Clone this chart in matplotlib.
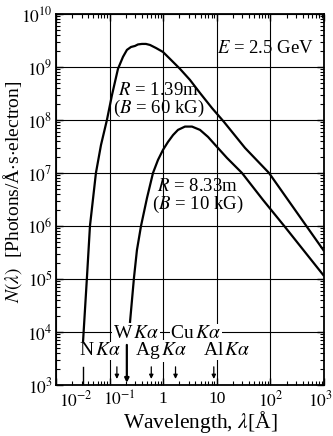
import matplotlib
matplotlib.use('Agg')
import matplotlib.pyplot as plt
import matplotlib.transforms as mtransforms
from matplotlib.ticker import FixedLocator, LogLocator, NullFormatter

plt.rcParams['font.family'] = ['Liberation Serif', 'DejaVu Serif']
plt.rcParams['mathtext.fontset'] = 'stix'

# ---- data ----
# R = 1.39 m (B = 60 kG)
wl_r139 = [0.0319, 0.0378, 0.0431, 0.0557, 0.0692, 0.0893, 0.111, 0.1435,
           0.178, 0.211, 0.251, 0.298, 0.339, 0.402, 0.477, 0.568, 0.734,
           0.991, 1.34, 2.06, 3.16, 4.86, 8.13, 13.6, 33.6, 94.2, 213.0,
           482.0, 1000.0]
n_r139 = [6.2e3, 1.04e5, 1.0e6, 1.0e7, 3.37e7, 1.0e8, 2.96e8, 9.2e8,
          1.55e9, 2.1e9, 2.38e9, 2.49e9, 2.66e9, 2.72e9, 2.72e9, 2.6e9, 2.28e9,
          1.92e9, 1.42e9, 9.2e8, 5.7e8, 3.23e8, 1.68e8, 9.2e7, 2.97e7, 1.0e7,
          3.1e6, 9.6e5, 3.37e5]

# R = 8.33 m (B = 10 kG)
wl_r833 = [0.240, 0.285, 0.324, 0.386, 0.499, 0.646, 0.80, 0.991, 1.23,
           1.53, 1.89, 2.55, 3.45, 4.86, 6.85, 10.1, 15.5, 29.5, 72.8, 187.0,
           1000.0]
n_r833 = [1.48e4, 1.04e5, 3.5e5, 1.0e6, 3.37e6, 1.0e7, 1.76e7, 2.72e7,
          3.85e7, 5.2e7, 6.5e7, 7.5e7, 7.5e7, 6.5e7, 4.8e7, 3.1e7, 1.92e7,
          1.0e7, 3.1e6, 9.6e5, 1.14e5]

# characteristic line markers at the bottom
marker_wl = [0.032, 0.137, 0.21, 0.6, 1.7, 8.8]
marker_top = [2.2e3, 2.2e3, 5.7e3, 2.2e3, 2.2e3, 2.2e3]
marker_tip = [1.0e3, 1.3e3, 1.1e3, 1.3e3, 1.3e3, 1.3e3]
marker_head = [False, True, True, True, True, True]

line_labels = [r'W$\,K\alpha$', r'Cu$\,K\alpha$', r'N$\,K\alpha$',
               r'Ag$\,K\alpha$', r'Al$\,K\alpha$']

xtick_vals = [1e-2, 1e-1, 1, 10, 100, 1000]
xtick_labels = [r'$10^{-2}$', r'$10^{-1}$', '1', '10', r'$10^{2}$', r'$10^{3}$']
ytick_vals = [1e3, 1e4, 1e5, 1e6, 1e7, 1e8, 1e9, 1e10]
ytick_labels = [r'$10^{3}$', r'$10^{4}$', r'$10^{5}$', r'$10^{6}$',
                r'$10^{7}$', r'$10^{8}$', r'$10^{9}$', r'$10^{10}$']

# ---- figure ----
fig = plt.figure(figsize=(3.33, 4.36), dpi=100)
ax = fig.add_axes([0.168, 0.117, 0.805, 0.851])
ax.set_xscale('log')
ax.set_yscale('log')
ax.set_xlim(1e-2, 1e3)
ax.set_ylim(1e3, 1e10)

ax.plot(wl_r139, n_r139, color='k', lw=1.6, solid_capstyle='butt')
ax.plot(wl_r833, n_r833, color='k', lw=1.6, solid_capstyle='butt')

ax.grid(True, which='major', color='k', lw=0.8)

ax.xaxis.set_major_locator(FixedLocator(xtick_vals))
ax.set_xticklabels(xtick_labels)
ax.yaxis.set_major_locator(FixedLocator(ytick_vals))
ax.set_yticklabels(ytick_labels)
ax.xaxis.set_minor_locator(LogLocator(base=10, subs=range(2, 10), numticks=20))
ax.yaxis.set_minor_locator(LogLocator(base=10, subs=range(2, 10), numticks=20))
ax.xaxis.set_minor_formatter(NullFormatter())
ax.yaxis.set_minor_formatter(NullFormatter())
ax.tick_params(which='both', direction='in', top=True, right=True, color='k')
ax.tick_params(which='major', length=5, width=1.0, labelsize=12.5, pad=2.5)
ax.tick_params(which='minor', length=3, width=0.8)
ax.tick_params(axis='x', which='major', pad=4)
for s in ax.spines.values():
    s.set_linewidth(1.3)

# shift first x tick labels right as in the reference
shifts = [20, 10, 0, 0, 0, -4]
for lab, dx in zip(ax.get_xticklabels(), shifts):
    lab.set_transform(lab.get_transform() +
                      mtransforms.ScaledTranslation(dx / 100, 0, fig.dpi_scale_trans))

ax.set_ylabel(r'$N(\lambda)$  [Photons/Å$\cdot$s$\cdot$electron]', fontsize=14)
ax.yaxis.set_label_coords(-0.12, 0.52)
ax.set_xlabel(r'Wavelength, $\lambda$[Å]', fontsize=15.5)
ax.xaxis.set_label_coords(0.537, -0.064)

# annotations
ax.text(0.78, 0.906, r'$E$ = 2.5 GeV', transform=ax.transAxes,
        ha='center', va='center', fontsize=13.5)
ax.text(0.383, 0.766, '$R$ = 1.39m\n($B$ = 60 kG)', transform=ax.transAxes,
        ha='center', va='center', multialignment='center', fontsize=13.5,
        linespacing=0.92)
ax.text(0.528, 0.508, '$R$ = 8.33m\n($B$ = 10 kG)', transform=ax.transAxes,
        ha='center', va='center', multialignment='center', fontsize=13.5,
        linespacing=0.92)

label_pos = [(0.299, 0.140), (0.522, 0.140), (0.164, 0.092),
             (0.392, 0.092), (0.638, 0.092)]
for txt, (px, py) in zip(line_labels, label_pos):
    ax.text(px, py, txt, transform=ax.transAxes, ha='center', va='center',
            fontsize=14, zorder=4,
            bbox=dict(facecolor='white', edgecolor='none', pad=0.3))

for wl, top, tip, head in zip(marker_wl, marker_top, marker_tip, marker_head):
    if head:
        lw = 1.6 if top > 3e3 else 0.9
        ax.annotate('', xy=(wl, tip), xytext=(wl, top),
                    arrowprops=dict(arrowstyle='-|>', color='k', lw=lw,
                                    mutation_scale=6, shrinkA=0, shrinkB=0),
                    zorder=5)
    else:
        ax.plot([wl, wl], [top, tip], color='k', lw=1.0, zorder=5)

fig.savefig('out.png', dpi=100)
